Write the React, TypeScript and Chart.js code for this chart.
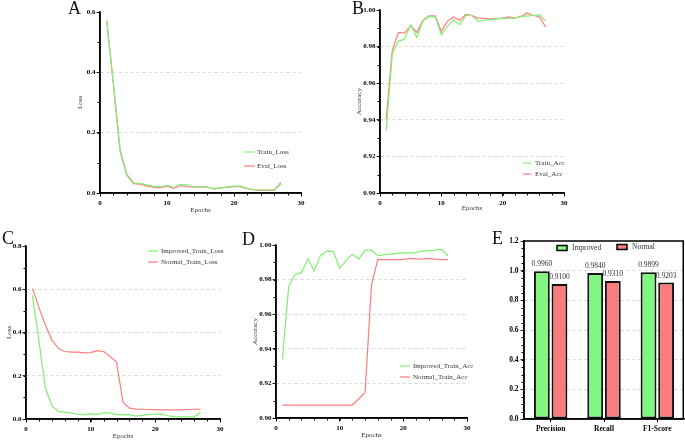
import React, { useEffect, useRef } from "react";
import { Chart, registerables } from "chart.js";

Chart.register(...registerables);

// ---------------- data ----------------
const epochs = [1, 2, 3, 4, 5, 6, 7, 8, 9, 10, 11, 12, 13, 14, 15, 16, 17, 18, 19, 20, 21, 22, 23, 24, 25, 26, 27];

const trainLoss = [0.572, 0.362, 0.142, 0.062, 0.034, 0.032, 0.027, 0.022, 0.020, 0.025, 0.020, 0.028, 0.028, 0.020, 0.020, 0.020, 0.013, 0.017, 0.020, 0.023, 0.023, 0.015, 0.011, 0.010, 0.010, 0.010, 0.030];
const evalLoss = [0.572, 0.360, 0.140, 0.060, 0.031, 0.029, 0.023, 0.019, 0.018, 0.023, 0.015, 0.024, 0.021, 0.019, 0.021, 0.019, 0.014, 0.017, 0.019, 0.021, 0.021, 0.014, 0.010, 0.009, 0.009, 0.009, 0.035];

const trainAcc = [0.934, 0.976, 0.983, 0.984, 0.992, 0.985, 0.994, 0.9965, 0.9963, 0.9865, 0.991, 0.9947, 0.992, 0.997, 0.997, 0.9938, 0.9944, 0.9947, 0.9952, 0.9954, 0.9955, 0.9956, 0.9965, 0.9968, 0.997, 0.9975, 0.9938];
const evalAcc = [0.940, 0.978, 0.9877, 0.9874, 0.9914, 0.9877, 0.9943, 0.9968, 0.9968, 0.9883, 0.9938, 0.9962, 0.9943, 0.9976, 0.9969, 0.9956, 0.9954, 0.995, 0.9954, 0.9956, 0.9962, 0.9956, 0.9965, 0.9984, 0.997, 0.9962, 0.9907];

const improvedTrainLoss = trainLoss;
const normalTrainLoss = [0.604, 0.515, 0.435, 0.366, 0.327, 0.312, 0.309, 0.309, 0.306, 0.307, 0.316, 0.312, 0.289, 0.263, 0.078, 0.050, 0.046, 0.045, 0.044, 0.043, 0.042, 0.042, 0.042, 0.042, 0.044, 0.045, 0.045];

const improvedTrainAcc = trainAcc;
const normalTrainAcc = [0.9075, 0.9075, 0.9075, 0.9075, 0.9075, 0.9075, 0.9075, 0.9075, 0.9075, 0.9075, 0.9075, 0.9075, 0.911, 0.915, 0.977, 0.9917, 0.9915, 0.9915, 0.9915, 0.9917, 0.9923, 0.992, 0.9918, 0.9923, 0.9918, 0.9915, 0.9915];

const metricLabels = ["Precision", "Recall", "F1-Score"];
const improvedMetrics = [0.996, 0.984, 0.9899];
const normalMetrics = [0.91, 0.931, 0.9203];

// ---------------- styles ----------------
const GREEN = "rgb(128,238,112)";
const RED = "rgb(255,125,125)";
const BAR_GREEN = "rgb(128,245,128)";
const BAR_RED = "rgb(250,125,125)";
const FAMILY = "'Liberation Serif', 'Times New Roman', serif";
const AXIS_W = 1.5;

const minorTicksPlugin = {
  id: "minorTicks",
  afterDraw(chart: any, _args: any, opts: any) {
    if (!opts) return;
    const ctx = chart.ctx;
    ctx.save();
    ctx.strokeStyle = "#000";
    ctx.lineWidth = 1;
    if (opts.x) {
      const s = chart.scales.x;
      const n = Math.round((s.max - s.min) / opts.x);
      for (let i = 0; i <= n; i++) {
        const px = Math.round(s.getPixelForValue(s.min + i * opts.x)) + 0.5;
        ctx.beginPath();
        ctx.moveTo(px, s.top);
        ctx.lineTo(px, s.top + 2.5);
        ctx.stroke();
      }
    }
    if (opts.y) {
      const s = chart.scales.y;
      const n = Math.round((s.max - s.min) / opts.y);
      for (let i = 0; i <= n; i++) {
        const py = Math.round(s.getPixelForValue(s.min + i * opts.y)) + 0.5;
        ctx.beginPath();
        ctx.moveTo(s.right, py);
        ctx.lineTo(s.right - 2.5, py);
        ctx.stroke();
      }
    }
    ctx.restore();
  },
};

// solid axis lines (and optional full frame)
const axisFramePlugin = {
  id: "axisFrame",
  afterDraw(chart: any, _args: any, opts: any) {
    const { left, right, top, bottom } = chart.chartArea;
    const ctx = chart.ctx;
    ctx.save();
    ctx.strokeStyle = "#000";
    ctx.lineWidth = AXIS_W;
    ctx.setLineDash([]);
    ctx.beginPath();
    if (opts && opts.box) {
      ctx.moveTo(left, bottom);
      ctx.lineTo(left, top);
      ctx.lineTo(right - 0.75, top);
      ctx.lineTo(right - 0.75, bottom);
      ctx.lineTo(left, bottom);
    } else {
      ctx.moveTo(left, top);
      ctx.lineTo(left, bottom);
      ctx.lineTo(right, bottom);
    }
    ctx.stroke();
    ctx.restore();
  },
};

const insideLegendPlugin = {
  id: "insideLegend",
  afterDraw(chart: any, _args: any, opts: any) {
    if (!opts || !opts.entries) return;
    const ctx = chart.ctx;
    const { left, top } = chart.chartArea;
    ctx.save();
    ctx.font = `${opts.weight || "normal"} ${opts.size}px ${FAMILY}`;
    ctx.textBaseline = "middle";
    chart.data.datasets.forEach((ds: any, i: number) => {
      const e = opts.entries[i];
      if (!e) return;
      const x = left + e.dx;
      const y = top + e.dy;
      if (opts.kind === "box") {
        ctx.fillStyle = ds.backgroundColor;
        ctx.fillRect(x, y - 2.5, opts.len, 5);
        ctx.strokeStyle = "#000";
        ctx.lineWidth = 1.5;
        ctx.strokeRect(x, y - 2.5, opts.len, 5);
      } else {
        ctx.strokeStyle = ds.borderColor;
        ctx.lineWidth = 1.2;
        ctx.beginPath();
        ctx.moveTo(x, y);
        ctx.lineTo(x + opts.len, y);
        ctx.stroke();
      }
      ctx.fillStyle = "#333";
      ctx.textAlign = "left";
      ctx.fillText(ds.label, x + opts.textOff, y);
    });
    ctx.restore();
  },
};

const barValuePlugin = {
  id: "barValues",
  afterDatasetsDraw(chart: any) {
    const ctx = chart.ctx;
    ctx.save();
    ctx.font = `7.5px ${FAMILY}`;
    ctx.fillStyle = "#333";
    ctx.textAlign = "center";
    ctx.textBaseline = "bottom";
    chart.data.datasets.forEach((ds: any, di: number) => {
      const meta = chart.getDatasetMeta(di);
      meta.data.forEach((el: any, i: number) => {
        ctx.fillText(Number(ds.data[i]).toFixed(4), el.x, el.y - 3);
      });
    });
    ctx.restore();
  },
};

const tickFont = { family: FAMILY, size: 7, weight: "bold" as const };
const titleFont = { family: FAMILY, size: 7, lineHeight: 1 };

type Series = { label: string; data: number[]; color: string };
type LegendSpec = { dx: number; dy: number; gap: number; len: number; textOff: number };

type LinePanelProps = {
  left: number;
  top: number;
  width: number;
  height: number;
  padTop: number;
  padRight: number;
  yWidth: number;
  xHeight: number;
  yMin: number;
  yMax: number;
  yStep: number;
  yMinor: number;
  yDigits: number;
  yTitle: string;
  series: Series[];
  legend: LegendSpec;
};

function LinePanel(p: LinePanelProps) {
  const ref = useRef<HTMLCanvasElement | null>(null);
  useEffect(() => {
    if (!ref.current) return;
    const chart = new Chart(ref.current, {
      type: "line",
      data: {
        datasets: p.series.map((s) => ({
          label: s.label,
          data: epochs.map((e, i) => ({ x: e, y: s.data[i] })),
          borderColor: s.color,
          backgroundColor: s.color,
          borderWidth: 1.2,
          pointRadius: 0,
          tension: 0,
          fill: false,
        })),
      },
      options: {
        animation: false,
        responsive: false,
        devicePixelRatio: window.devicePixelRatio || 1,
        layout: { padding: { top: p.padTop, right: p.padRight, left: 0, bottom: 0 } },
        plugins: {
          legend: { display: false },
          tooltip: { enabled: false },
          minorTicks: { x: 2, y: p.yMinor },
          axisFrame: { box: false },
          insideLegend: {
            size: 7,
            len: p.legend.len,
            textOff: p.legend.textOff,
            entries: p.series.map((_, i) => ({ dx: p.legend.dx, dy: p.legend.dy + i * p.legend.gap })),
          },
        } as any,
        scales: {
          x: {
            type: "linear",
            min: 0,
            max: 30,
            afterFit: (s: any) => {
              s.height = p.xHeight;
            },
            ticks: { stepSize: 10, font: tickFont, color: "#000", padding: 2, maxRotation: 0, autoSkip: false },
            grid: { drawOnChartArea: false, tickLength: 3.5, color: "#000", tickColor: "#000", lineWidth: 1 },
            border: { color: "#000", width: AXIS_W },
            title: { display: true, text: "Epochs", font: titleFont, color: "#333", padding: 0 },
          },
          y: {
            type: "linear",
            min: p.yMin,
            max: p.yMax,
            afterFit: (s: any) => {
              s.width = p.yWidth;
            },
            ticks: {
              stepSize: p.yStep,
              font: tickFont,
              color: "#000",
              padding: 1,
              callback: (v: any) => Number(v).toFixed(p.yDigits),
            },
            grid: {
              color: (c: any) => {
                const v = c.tick ? c.tick.value : 0;
                const eps = p.yStep / 100;
                return Math.abs(v - p.yMin) < eps || Math.abs(v - p.yMax) < eps ? "rgba(0,0,0,0)" : "#cfcfcf";
              },
              tickColor: "#000",
              tickLength: 3.5,
              lineWidth: 0.8,
            },
            border: { color: "#000", width: AXIS_W, dash: [3, 3] },
            title: { display: true, text: p.yTitle, font: titleFont, color: "#333", padding: 0 },
          },
        } as any,
      },
      plugins: [minorTicksPlugin, axisFramePlugin, insideLegendPlugin],
    });
    return () => chart.destroy();
  }, []);
  return (
    <canvas
      ref={ref}
      width={p.width}
      height={p.height}
      style={{ position: "absolute", left: p.left, top: p.top, width: p.width, height: p.height }}
    />
  );
}

function BarPanel() {
  const ref = useRef<HTMLCanvasElement | null>(null);
  const left = 500;
  const top = 231;
  const width = 185;
  const height = 211;
  useEffect(() => {
    if (!ref.current) return;
    const barStyle = {
      borderColor: "#111",
      borderWidth: 2,
      borderSkipped: false,
      categoryPercentage: 0.66,
      barPercentage: 0.9,
    };
    const chart = new Chart(ref.current, {
      type: "bar",
      data: {
        labels: metricLabels,
        datasets: [
          { label: "Improved", data: improvedMetrics, backgroundColor: BAR_GREEN, ...barStyle },
          { label: "Normal", data: normalMetrics, backgroundColor: BAR_RED, ...barStyle },
        ],
      },
      options: {
        animation: false,
        responsive: false,
        devicePixelRatio: window.devicePixelRatio || 1,
        layout: { padding: { top: 10, right: 1, left: 0, bottom: 0 } },
        plugins: {
          legend: { display: false },
          tooltip: { enabled: false },
          minorTicks: { y: 0.05 },
          axisFrame: { box: true },
          insideLegend: {
            kind: "box",
            size: 7.5,
            len: 10,
            textOff: 15,
            entries: [
              { dx: 33, dy: 7 },
              { dx: 93, dy: 6 },
            ],
          },
        } as any,
        scales: {
          x: {
            type: "category",
            afterFit: (s: any) => {
              s.height = 23;
            },
            ticks: { font: { family: FAMILY, size: 7.5, weight: "bold" }, color: "#000", padding: 3, maxRotation: 0 },
            grid: { drawOnChartArea: false, offset: false, tickLength: 3, color: "#000", tickColor: "#000" },
            border: { color: "#000", width: AXIS_W },
          },
          y: {
            type: "linear",
            min: 0,
            max: 1.2,
            afterFit: (s: any) => {
              s.width = 24;
            },
            ticks: {
              stepSize: 0.2,
              font: { family: FAMILY, size: 7.5, weight: "bold" },
              color: "#000",
              padding: 2,
              callback: (v: any) => Number(v).toFixed(1),
            },
            grid: {
              color: (c: any) => {
                const v = c.tick ? c.tick.value : 0;
                return v < 0.01 || v > 1.19 ? "rgba(0,0,0,0)" : "#cfcfcf";
              },
              tickColor: "#000",
              tickLength: 3.5,
              lineWidth: 0.8,
            },
            border: { color: "#000", width: AXIS_W, dash: [3, 3] },
          },
        } as any,
      },
      plugins: [minorTicksPlugin, axisFramePlugin, insideLegendPlugin, barValuePlugin],
    });
    return () => chart.destroy();
  }, []);
  return (
    <canvas
      ref={ref}
      width={width}
      height={height}
      style={{ position: "absolute", left, top, width, height }}
    />
  );
}

const letterStyle: React.CSSProperties = {
  position: "absolute",
  fontFamily: FAMILY,
  fontSize: 18,
  lineHeight: "18px",
  color: "#111",
};

export default function App() {
  return (
    <div
      style={{
        position: "fixed",
        left: 0,
        top: 0,
        width: 685,
        height: 442,
        background: "#fff",
        overflow: "hidden",
      }}
    >
      <LinePanel
        left={77}
        top={0}
        width={243}
        height={214}
        padTop={12}
        padRight={19}
        yWidth={23}
        xHeight={21}
        yMin={0}
        yMax={0.6}
        yStep={0.2}
        yMinor={0.1}
        yDigits={1}
        yTitle="Loss"
        series={[
          { label: "Train_Loss", data: trainLoss, color: GREEN },
          { label: "Eval_Loss", data: evalLoss, color: RED },
        ]}
        legend={{ dx: 144, dy: 140, gap: 14, len: 11, textOff: 13 }}
      />
      <LinePanel
        left={356}
        top={0}
        width={228}
        height={212}
        padTop={10}
        padRight={20}
        yWidth={24}
        xHeight={19}
        yMin={0.9}
        yMax={1.0}
        yStep={0.02}
        yMinor={0.01}
        yDigits={2}
        yTitle="Accuracy"
        series={[
          { label: "Train_Acc", data: trainAcc, color: GREEN },
          { label: "Eval_Acc", data: evalAcc, color: RED },
        ]}
        legend={{ dx: 143, dy: 153, gap: 11, len: 8, textOff: 12 }}
      />
      <LinePanel
        left={6}
        top={236}
        width={234}
        height={204}
        padTop={10}
        padRight={20}
        yWidth={20}
        xHeight={21}
        yMin={0}
        yMax={0.8}
        yStep={0.2}
        yMinor={0.1}
        yDigits={1}
        yTitle="Loss"
        series={[
          { label: "Improved_Train_Loss", data: improvedTrainLoss, color: GREEN },
          { label: "Normal_Train_Loss", data: normalTrainLoss, color: RED },
        ]}
        legend={{ dx: 122, dy: 5, gap: 11, len: 10, textOff: 13 }}
      />
      <LinePanel
        left={252}
        top={235}
        width={235}
        height={204}
        padTop={10}
        padRight={20}
        yWidth={24}
        xHeight={21}
        yMin={0.9}
        yMax={1.0}
        yStep={0.02}
        yMinor={0.01}
        yDigits={2}
        yTitle="Accuracy"
        series={[
          { label: "Improved_Train_Acc", data: improvedTrainAcc, color: GREEN },
          { label: "Normal_Train_Acc", data: normalTrainAcc, color: RED },
        ]}
        legend={{ dx: 124, dy: 121, gap: 11, len: 10, textOff: 13 }}
      />
      <BarPanel />
      <div style={{ ...letterStyle, left: 68, top: -1 }}>A</div>
      <div style={{ ...letterStyle, left: 352, top: -1 }}>B</div>
      <div style={{ ...letterStyle, left: 2, top: 229 }}>C</div>
      <div style={{ ...letterStyle, left: 242, top: 230 }}>D</div>
      <div style={{ ...letterStyle, left: 492, top: 229 }}>E</div>
    </div>
  );
}
